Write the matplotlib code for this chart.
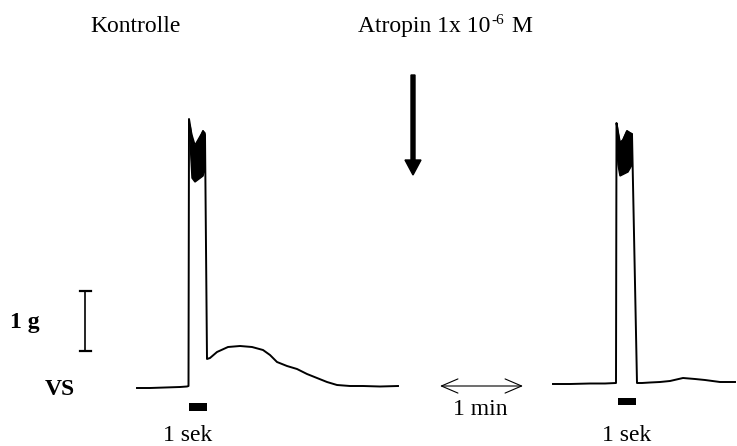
import matplotlib.pyplot as plt
from matplotlib.patches import Rectangle, Polygon

plt.rcParams['font.family'] = 'Liberation Serif'
plt.rcParams['font.size'] = 17

# Kraftregistrierung, Kontrolle (Positionen auf dem Schreiberpapier, y nach unten)
ctrl_x = [137, 150, 165, 180, 187, 188.5, 189, 190, 193, 196, 200, 203, 205, 207,
          210, 217, 228, 240, 252, 263, 270, 277, 287, 297, 307, 317, 327, 337,
          350, 363, 380, 398]
ctrl_y = [388, 388, 387.5, 387, 386.5, 386, 119, 125, 150, 160, 140, 131, 135, 359,
          358, 352, 347, 346, 347, 350, 355, 362, 366, 369, 374, 378, 382, 385,
          386, 386, 386.5, 386]
# Oszillationsband während der Reizung (oben hin, unten zurück)
ctrl_band_x = [190, 192, 195, 199, 203, 205, 205, 203, 199, 195, 192, 191, 190]
ctrl_band_y = [125, 135, 145, 138, 131, 133, 170, 176, 179, 182, 178, 160, 140]

# Kraftregistrierung nach Atropin 1x10^-6 M
atr_x = [553, 570, 590, 605, 616, 616.5, 618, 620, 623, 627, 630, 632, 637, 642,
         650, 660, 670, 683, 695, 705, 720, 735]
atr_y = [384, 384, 383.5, 383.5, 383, 123, 132, 143, 140, 131, 133, 134, 383, 383,
         382.5, 382, 381, 378, 379, 380, 382, 382]
atr_band_x = [617, 618, 620, 623, 627, 630, 632, 632, 628, 624, 620, 618, 617]
atr_band_y = [124, 132, 143, 140, 131, 133, 134, 165, 172, 174, 176, 165, 150]

# Reizmarken (1 sek): x-Start, Breite, y-Start, Höhe
stim_x = [189, 618]
stim_w = [18, 18]
stim_y = [403, 398]
stim_h = [8, 7]

fig = plt.figure(figsize=(7.37, 4.46), dpi=100)
ax = fig.add_axes([0, 0, 1, 1])
ax.set_xlim(0, 737)
ax.set_ylim(446, 0)
ax.axis('off')

ax.plot(ctrl_x, ctrl_y, color='black', lw=1.4, solid_joinstyle='round')
ax.add_patch(Polygon(list(zip(ctrl_band_x, ctrl_band_y)), closed=True,
                     facecolor='black', edgecolor='black', lw=1))
ax.plot(atr_x, atr_y, color='black', lw=1.4, solid_joinstyle='round')
ax.add_patch(Polygon(list(zip(atr_band_x, atr_band_y)), closed=True,
                     facecolor='black', edgecolor='black', lw=1))

for x, w, y, h in zip(stim_x, stim_w, stim_y, stim_h):
    ax.add_patch(Rectangle((x, y), w, h, facecolor='black', edgecolor='none'))

# Eichbalken 1 g
ax.plot([85, 85], [291, 351], color='black', lw=1.2)
ax.plot([80, 91], [291, 291], color='black', lw=1.6)
ax.plot([80, 91], [351, 351], color='black', lw=1.6)

# Pfeil: Zugabe von Atropin
ax.arrow(413, 75, 0, 100, width=4, head_width=16, head_length=15,
         length_includes_head=True, color='black')

# Zeitbalken 1 min
ax.annotate('', xy=(440, 386), xytext=(523, 386),
            arrowprops=dict(arrowstyle='<->,head_length=0.7,head_width=0.3',
                            lw=0.8, color='black', shrinkA=0, shrinkB=0))

ax.text(90, 32, 'Kontrolle', ha='left', va='baseline')
ax.text(358, 32, 'Atropin 1x 10', ha='left', va='baseline')
ax.text(491, 24, '-6', ha='left', va='baseline', fontsize=11)
ax.text(511, 32, 'M', ha='left', va='baseline')
ax.text(10, 328, '1 g', ha='left', va='baseline', fontweight='bold')
ax.text(45, 395, 'VS', ha='left', va='baseline', fontweight='bold')
ax.text(453, 415, '1 min', ha='left', va='baseline')
ax.text(163, 441, '1 sek', ha='left', va='baseline')
ax.text(602, 441, '1 sek', ha='left', va='baseline')

fig.savefig('out.png', dpi=100)
